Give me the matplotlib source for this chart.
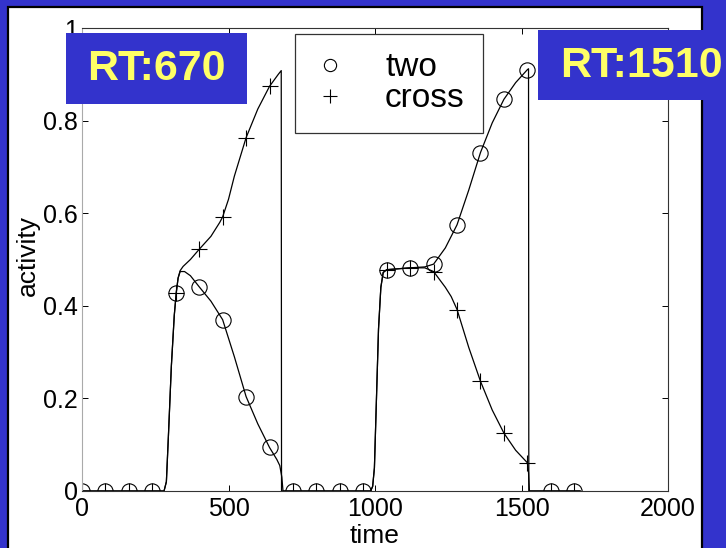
import matplotlib
matplotlib.use("Agg")
import matplotlib.pyplot as plt
from matplotlib.patches import Rectangle

plt.rcParams['font.family'] = ['Liberation Sans', 'DejaVu Sans']

# sampled marker times and values
t_mark = [0, 80, 160, 240, 320, 400, 480, 560, 640, 720, 800, 880, 960,
          1040, 1120, 1200, 1280, 1360, 1440, 1520, 1600, 1680]
two_mark = [0, 0, 0, 0, 0.428, 0.441, 0.370, 0.204, 0.094, 0, 0, 0, 0,
            0.478, 0.482, 0.490, 0.575, 0.731, 0.846, 0.910, 0, 0]
cross_mark = [0, 0, 0, 0, 0.428, 0.522, 0.592, 0.763, 0.874, 0, 0, 0, 0,
              0.478, 0.482, 0.474, 0.392, 0.237, 0.125, 0.061, 0, 0]

# continuous activity traces
two_t = [0, 280, 288, 295, 305, 315, 322, 328, 335, 350, 370, 400, 440, 480,
         500, 520, 560, 600, 640, 665, 675, 682, 686,
         985, 992, 998, 1005, 1012, 1020, 1028, 1040, 1080, 1120, 1170,
         1200, 1240, 1280, 1320, 1360, 1400, 1440, 1480, 1520, 1524, 1525, 1700]
two_y = [0, 0, 0.02, 0.12, 0.27, 0.38, 0.43, 0.46, 0.474, 0.474, 0.465, 0.441,
         0.41, 0.370, 0.33, 0.29, 0.204, 0.145, 0.094, 0.068, 0.055, 0.03, 0,
         0, 0.01, 0.05, 0.2, 0.35, 0.44, 0.472, 0.478, 0.48, 0.482, 0.484,
         0.490, 0.525, 0.575, 0.65, 0.731, 0.795, 0.846, 0.882, 0.910, 0.912, 0, 0]

cross_t = [0, 280, 288, 295, 305, 315, 322, 328, 335, 345, 370, 400, 440, 470,
           480, 500, 520, 560, 600, 640, 670, 680, 681,
           985, 992, 998, 1005, 1012, 1020, 1028, 1040, 1080, 1120, 1170,
           1200, 1240, 1260, 1280, 1320, 1360, 1400, 1440, 1480, 1520, 1524, 1527, 1700]
cross_y = [0, 0, 0.02, 0.12, 0.27, 0.38, 0.43, 0.46, 0.476, 0.485, 0.50, 0.522,
           0.55, 0.58, 0.592, 0.63, 0.68, 0.763, 0.825, 0.874, 0.900, 0.908, 0,
           0, 0.01, 0.05, 0.2, 0.35, 0.44, 0.472, 0.478, 0.48, 0.482, 0.482,
           0.474, 0.44, 0.42, 0.392, 0.31, 0.237, 0.175, 0.125, 0.088, 0.061, 0.04, 0, 0]

x_ticks = [0, 500, 1000, 1500, 2000]
y_ticks = [0, 0.2, 0.4, 0.6, 0.8, 1]
y_ticklabels = ['0', '0.2', '0.4', '0.6', '0.8', '1']

blue = '#3333cc'
yellow = '#ffff66'

fig = plt.figure(figsize=(7.26, 5.48), dpi=100, facecolor=blue)

# white slide panel with black outline
fig.patches.append(Rectangle((8 / 726, -0.02), 694 / 726, 1.02 - 7 / 548,
                             transform=fig.transFigure, facecolor='white',
                             edgecolor='black', linewidth=1.6, zorder=-1))

ax = fig.add_axes([82 / 726, 57 / 548, 586 / 726, 463 / 548])
ax.plot(two_t, two_y, color='black', lw=0.9)
ax.plot(cross_t, cross_y, color='black', lw=0.9)
ax.plot(t_mark, two_mark, 'o', ms=11, mfc='none', mec='black', mew=0.8,
        label='two')
ax.plot(t_mark, cross_mark, '+', ms=12, mec='black', mew=0.8,
        label='cross')

ax.set_xlim(0, 2000)
ax.set_ylim(0, 1)
ax.set_xticks(x_ticks)
ax.set_xticklabels([str(v) for v in x_ticks])
ax.set_yticks(y_ticks)
ax.set_yticklabels(y_ticklabels)
ax.tick_params(direction='in', length=4, width=0.7, top=True, right=True,
               labelsize=18)
ax.tick_params(axis='x', pad=4)
ax.tick_params(axis='y', pad=3)
for side in ['top', 'right', 'bottom']:
    ax.spines[side].set_color('#333333')
    ax.spines[side].set_linewidth(0.8)
ax.spines['left'].set_color('#aaaaaa')
ax.spines['left'].set_linewidth(0.8)

leg = ax.legend(loc='upper left', bbox_to_anchor=(0.3635, 0.987),
                borderaxespad=0, fontsize=24, frameon=True, fancybox=False,
                edgecolor='#333333', framealpha=1, markerscale=0.8,
                handlelength=0.97, handletextpad=1.18, borderpad=0.55,
                labelspacing=0.0)
leg.get_frame().set_linewidth(0.9)

fig.text(28 / 726, 1 - 256 / 548, 'activity', rotation=90, ha='center',
         va='center', fontsize=19)
fig.text(375 / 726, 1 - 536 / 548, 'time', ha='center', va='center',
         fontsize=19)

# RT annotation boxes
fig.patches.append(Rectangle((66 / 726, 1 - 104 / 548), 181 / 726, 71 / 548,
                             transform=fig.transFigure, facecolor=blue,
                             edgecolor='none', zorder=5))
fig.text(156.5 / 726, 1 - 69.5 / 548, 'RT:670', ha='center', va='center',
         fontsize=31, fontweight='bold', color=yellow, zorder=6)
fig.patches.append(Rectangle((538 / 726, 1 - 100 / 548), 200 / 726, 70 / 548,
                             transform=fig.transFigure, facecolor=blue,
                             edgecolor='none', zorder=5))
fig.text(641.5 / 726, 1 - 66 / 548, 'RT:1510', ha='center', va='center',
         fontsize=31, fontweight='bold', color=yellow, zorder=6)

fig.savefig('out.png', dpi=100, facecolor=blue)
